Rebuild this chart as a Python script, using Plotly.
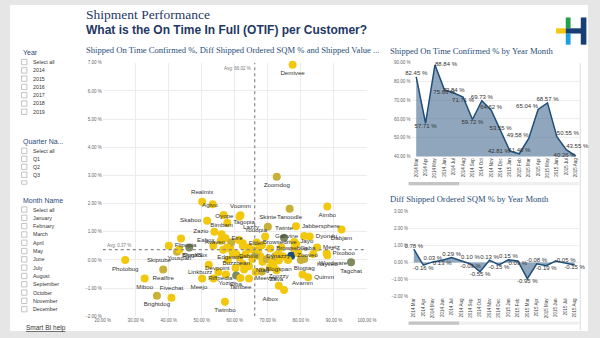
import plotly.graph_objects as go

# ---------------- data ----------------
customers = ["Realmix", "", "Agivu", "Voomm", "Oyope", "Skaboo", "Tagopia", "Zazio", "Bimbam", "Eire",
             "Eabox", "", "Flipopia", "Skiptube", "Youspan", "", "Dynabox", "BlogXS", "Linkbuzz", "Riffpedia",
             "Meejo", "Yozio", "Twimbo", "Devpoint", "Oba", "Tambee", "Meevee", "Buzzbean", "Edgewire", "Avaveo",
             "Youopia", "Eidel", "Browsedrive", "Lazzy", "Skinte", "Twinte", "Tanoodle", "Aimbo", "Jabbersphere", "Gabvine",
             "Dyondu", "Dabjam", "Jayo", "Meetz", "Pixoboo", "Wordware", "Kayveo", "Tagchat", "Blogtag", "Quimm",
             "Avamm", "Zoozzy", "Aibox", "Zava", "Blogspan", "Ntag", "Browsebug", "Geba", "Zooveo", "Dablist",
             "Dynazzy", "Demivee", "Zoomdog", "Photobug", "Realfire", "Miboo", "Brightdog", "Fivechat",
             "", "", "", "", "", "", "", "", "", "", "", "", "", "", "", "", "", "", "", "", "", "", "", "", "", "", "", "", "", ""]
otif_pct = [50.1, 53.3, 56.6, 61.7, 61.4, 51.6, 57.7, 53.8, 56.0, 57.2,
            55.7, 43.7, 40.0, 42.5, 43.2, 46.2, 53.5, 52.1, 55.0, 50.1,
            53.5, 57.3, 57.0, 60.2, 60.4, 61.7, 64.3, 60.4, 58.6, 58.9,
            61.2, 62.4, 66.6, 69.2, 70.0, 74.9, 76.6, 88.0, 78.5, 81.0,
            82.7, 92.3, 78.0, 84.9, 87.8, 83.7, 88.0, 95.2, 81.0, 82.2,
            80.5, 73.3, 74.9, 72.6, 73.3, 68.4, 70.7, 78.0, 77.1, 64.1,
            67.7, 77.5, 72.7, 26.8, 38.3, 32.7, 36.4, 40.8,
            62.4, 63.3, 65.0, 66.3, 67.1, 68.2, 69.7, 71.2, 72.2, 73.6,
            74.6, 76.1, 79.2, 80.0, 71.7, 70.7, 64.3, 62.8, 62.4, 66.3,
            68.2, 74.1, 78.6, 61.4, 59.4, 57.9, 56.5, 57.6, 65.3, 73.1]
diff_sqm_pct = [2.07, 1.98, 1.60, 1.59, 1.53, 1.39, 1.32, 1.00, 0.91, 0.77,
                0.68, 0.76, 0.50, 0.29, 0.36, 0.44, 0.50, -0.17, -0.43, -0.66,
                -0.66, -0.52, -1.48, -0.29, -0.55, -0.64, -0.66, 0.21, 0.41, 0.62,
                0.71, 0.59, 0.62, 0.83, 1.18, 0.79, 1.82, 1.90, 1.20, 0.85,
                0.83, 1.08, 0.64, 0.44, 0.24, 0.21, 0.17, -0.08, 0.03, -0.61,
                -0.52, -0.92, -1.07, -0.37, -0.02, -0.06, 0.41, 0.41, 0.15, 0.44,
                0.13, 6.93, 2.95, 0.00, -0.34, -0.66, -1.27, -1.34,
                0.50, 0.21, 0.38, 0.17, 0.36, 0.52, 0.03, -0.10, 0.13, 0.06,
                0.13, 0.00, 0.24, 0.00, -0.22, -0.26, -0.22, -0.34, -0.14, -0.43,
                -0.41, 0.44, 0.56, 0.09, 0.24, 0.01, 0.36, 0.44, 0.03, 0.21]
value_band = [0, 0, 0, 0, 0, 0, 0, 0, 0, 0,
              0, 0, 0, 1, 0, 2, 0, 0, 0, 0,
              0, 0, 0, 0, 2, 0, 0, 0, 0, 1,
              0, 0, 0, 0, 1, 2, 1, 0, 0, 0,
              0, 0, 0, 0, 0, 0, 0, 2, 1, 0,
              0, 0, 0, 0, 0, 0, 0, 0, 3, 0,
              0, 0, 1, 0, 1, 0, 1, 0,
              0, 0, 0, 1, 0, 0, 1, 0, 1, 0,
              0, 0, 0, 1, 0, 0, 0, 0, 0, 0,
              1, 0, 0, 0, 0, 0, 0, 0, 0, 0]
label_side = ["top center", "top center", "top left", "top center", "middle left", "middle left", "middle right", "middle left", "top center", "middle right",
              "middle left", "top center", "middle right", "bottom left", "bottom center", "top center", "bottom left", "top left", "middle left", "middle right",
              "bottom left", "bottom center", "bottom center", "middle left", "bottom center", "bottom center", "middle right", "bottom center", "bottom center", "middle left",
              "top right", "middle right", "middle right", "top left", "top center", "top center", "bottom center", "bottom center", "middle right", "middle left",
              "middle right", "bottom center", "middle right", "middle right", "middle right", "bottom right", "bottom center", "bottom center", "bottom center", "middle right",
              "bottom center", "top center", "bottom left", "bottom center", "bottom center", "bottom center", "middle right", "middle right", "middle right", "bottom center",
              "middle right", "bottom center", "bottom center", "bottom center", "bottom center", "bottom center", "bottom center", "top center"] + ["top center"] * 32
avg_otif = 66.02
avg_diff = 0.37

year_months = ["2014 Mar", "2014 Apr", "2014 May", "2014 Jun", "2014 Jul", "2014 Aug", "2014 Sep", "2014 Oct",
               "2014 Nov", "2014 Dec", "2015 Jan", "2015 Feb", "2015 Mar", "2015 Apr", "2015 May", "2015 Jun",
               "2015 Jul", "2015 Aug"]
otif_by_month = [82.45, 57.71, 88.84, 75.66, 73.84, 71.71, 59.72, 69.73, 64.62, 53.55,
                 42.81, 41.40, 49.58, 65.04, 68.57, 50.55, 43.55, 40.26]
diff_by_month = [0.78, -0.16, 0.03, 0.13, 0.29, 0.10, -0.09, -0.55, 0.13, -0.15,
                 0.15, 0.09, -0.95, -0.08, -0.19, 0.08, -0.05, -0.15]
otif_label_side = ["top center", "bottom center", "middle right", "bottom center", "top center", "bottom center",
                   "bottom center", "top center", "top center", "top center", "middle left", "top center",
                   "top left", "top left", "top center", "top right", "top right", "middle left"]
diff_label_side = ["top center", "bottom center", "top center", "bottom center", "top center", "top right",
                   "bottom center", "bottom center", "top center", "bottom center", "top center", "bottom center",
                   "bottom center", "top center", "bottom center", "top center", "top center", "bottom center"]
diff_labelled = [1, 1, 1, 1, 1, 1, 1, 1, 1, 1, 1, 1, 1, 1, 1, 0, 1, 1]

years = ["Select all", "2014", "2015", "2016", "2017", "2018", "2019"]
quarters = ["Select all", "Q1", "Q2", "Q3"]
month_names = ["Select all", "January", "February", "March", "April", "May", "June", "July",
               "August", "September", "October", "November", "December"]

# ---------------- styling ----------------
W, H = 600, 338
NAVY = "#1f3864"
LINE = "#1f4e79"
FILL = "rgba(31,78,121,0.5)"
band_colors = {0: "#F2C80F", 1: "#C9B038", 2: "#7E8A60", 3: "#1F4E79"}
SANS = "Liberation Sans, Arial, sans-serif"
SERIF = "Liberation Serif, Times New Roman, serif"


def fx(p):
    return p / W


def fy(p):
    return 1 - p / H


fig = go.Figure()

# scatter
fig.add_trace(go.Scatter(
    x=otif_pct, y=diff_sqm_pct, mode="markers+text", text=customers, textposition=label_side,
    marker=dict(size=8, color=[band_colors[b] for b in value_band], line=dict(width=0)),
    textfont=dict(size=6.2, color="#333333", family=SANS), cliponaxis=False,
    xaxis="x", yaxis="y", hoverinfo="x+y+text"))

# top right area
fig.add_trace(go.Scatter(
    x=year_months, y=otif_by_month, mode="lines+text", fill="tozeroy", fillcolor=FILL,
    line=dict(color=LINE, width=1.5), text=[f"{v:.2f} %" for v in otif_by_month],
    textposition=otif_label_side, textfont=dict(size=6, color="#333333", family=SANS),
    cliponaxis=False, xaxis="x2", yaxis="y2"))

# bottom right area
fig.add_trace(go.Scatter(
    x=year_months, y=diff_by_month, mode="lines+text", fill="tozeroy", fillcolor=FILL,
    line=dict(color=LINE, width=1.5),
    text=[f"{v:.2f} %" if s else "" for v, s in zip(diff_by_month, diff_labelled)],
    textposition=diff_label_side, textfont=dict(size=6, color="#333333", family=SANS),
    cliponaxis=False, xaxis="x3", yaxis="y3"))

tickfont = dict(size=4.5, color="#666666", family=SANS)

fig.update_layout(
    width=W, height=H, margin=dict(l=0, r=0, t=0, b=0),
    paper_bgcolor="#e6e6e6", plot_bgcolor="rgba(0,0,0,0)", showlegend=False,
    xaxis=dict(domain=[fx(97.7), fx(370)], range=[20, 100], dtick=10, tickformat=".2f", ticksuffix=" %",
               showgrid=True, gridcolor="#ececec", zeroline=False, showline=False, tickfont=tickfont,
               anchor="y", ticklen=0),
    yaxis=dict(domain=[fy(319), fy(61.7)], range=[-2, 7], dtick=1, tickformat=".2f", ticksuffix=" %",
               showgrid=True, gridcolor="#ececec", zeroline=False, showline=False, tickfont=tickfont,
               anchor="x", ticklen=0),
    xaxis2=dict(domain=[fx(416), fx(590)], type="category", range=[-0.5, 17.5], tickangle=-90,
                showgrid=False, zeroline=False, showline=False, tickfont=dict(size=4.5, color="#444", family=SANS),
                anchor="y2"),
    yaxis2=dict(domain=[fy(156.7), fy(61.7)], range=[40, 90], dtick=10, tickformat=".2f", ticksuffix=" %",
                showgrid=True, gridcolor="#eeeeee", zeroline=False, tickfont=tickfont, anchor="x2"),
    xaxis3=dict(domain=[fx(413.5), fx(589)], type="category", range=[-0.5, 17.5], tickangle=-90,
                showgrid=False, zeroline=False, showline=False, tickfont=dict(size=4.5, color="#444", family=SANS),
                anchor="y3"),
    yaxis3=dict(domain=[fy(299), fy(212.3)], range=[-2, 3], dtick=1, tickformat=".2f", ticksuffix=" %",
                showgrid=True, gridcolor="#eeeeee", zeroline=False, tickfont=tickfont, anchor="x3"),
)

shapes = []
# white card
shapes.append(dict(type="rect", xref="paper", yref="paper", x0=fx(2), x1=fx(598), y0=fy(334), y1=fy(3),
                   fillcolor="white", line=dict(width=0), layer="below"))
shapes.append(dict(type="line", xref="paper", yref="paper", x0=fx(590), x1=fx(590), y0=fy(333), y1=fy(62),
                   line=dict(color="#dddddd", width=1), layer="below"))
# average lines
shapes.append(dict(type="line", xref="x", yref="y", x0=avg_otif, x1=avg_otif, y0=-2, y1=7,
                   line=dict(color="#888888", width=1.2, dash="dot")))
shapes.append(dict(type="line", xref="x", yref="y", x0=20, x1=100, y0=avg_diff, y1=avg_diff,
                   line=dict(color="#888888", width=1.2, dash="dot")))
# scrollbars
for ytop in (182.7, 324.3):
    shapes.append(dict(type="rect", xref="paper", yref="paper", x0=fx(413), x1=fx(589), y0=fy(ytop + 3.3), y1=fy(ytop),
                       fillcolor="#efefef", line=dict(width=0)))
    shapes.append(dict(type="rect", xref="paper", yref="paper", x0=fx(413), x1=fx(465), y0=fy(ytop + 3.3), y1=fy(ytop),
                       fillcolor="#c4c4c4", line=dict(width=0)))
# logo
logo = [(565, 575, 26.7, 32, "#F2C80F"), (575, 580, 15.7, 26.7, "#1FA24A"), (575, 580, 32, 43.3, "#1BA1E2"),
        (575, 594, 26.7, 32, "#173F73"), (590.5, 596.3, 15.7, 43.3, "#173F73")]
for x0, x1, y0, y1, c in logo:
    shapes.append(dict(type="rect", xref="paper", yref="paper", x0=fx(x0), x1=fx(x1), y0=fy(y1), y1=fy(y0),
                       fillcolor=c, line=dict(width=0)))

annotations = []


def text(x, y, s, size, color="#333333", family=SANS, anchor="left"):
    annotations.append(dict(xref="paper", yref="paper", x=fx(x), y=fy(y), text=s, showarrow=False,
                            xanchor=anchor, yanchor="middle", font=dict(size=size, color=color, family=family)))


# header
text(78, 12.6, "Shipment Performance", 13.5, NAVY, SERIF)
text(78, 28.5, "<b>What is the On Time In Full (OTIF) per Customer?</b>", 12, NAVY, SANS)
# chart titles
text(78, 49, "Shipped On Time Confirmed %, Diff Shipped Ordered SQM % and Shipped Value ...", 8.6, LINE, SERIF)
text(392, 49.5, "Shipped On Time Confirmed % by Year Month", 8.6, LINE, SERIF)
text(392, 200, "Diff Shipped Ordered SQM % by Year Month", 8.6, LINE, SERIF)
# avg labels
annotations.append(dict(xref="x", yref="y", x=avg_otif, y=7, text=f"Avg: {avg_otif:.2f} %", showarrow=False,
                        xanchor="right", yanchor="top", xshift=-2, yshift=-1,
                        font=dict(size=4.5, color="#777777", family=SANS)))
annotations.append(dict(xref="x", yref="y", x=20, y=avg_diff, text=f"Avg: {avg_diff:.2f} %", showarrow=False,
                        xanchor="left", yanchor="bottom", xshift=2,
                        font=dict(size=4.5, color="#777777", family=SANS)))


# slicers
def slicer(title, items, y_title, y_first, step=8.4):
    text(13, y_title, title, 7, "#2c4a7a")
    for i, it in enumerate(items):
        yy = y_first + i * step
        shapes.append(dict(type="rect", xref="paper", yref="paper", x0=fx(14), x1=fx(19.5),
                           y0=fy(yy + 2.75), y1=fy(yy - 2.75), fillcolor="white",
                           line=dict(color="#b5b5b5", width=0.8)))
        text(23.3, yy, it, 5.3, "#333333")


slicer("Year", years, 51.7, 61)
slicer("Quarter Na...", quarters, 141.7, 151, 8.1)
shapes.append(dict(type="rect", xref="paper", yref="paper", x0=fx(14), x1=fx(19.5),
                   y0=fy(185), y1=fy(181.5), fillcolor="white", line=dict(color="#b5b5b5", width=0.8)))
slicer("Month Name", month_names, 201.7, 210.7, 8.42)
text(16.5, 330.5, "<u>Smart BI help</u>", 6.5, "#333333")

fig.update_layout(shapes=shapes, annotations=annotations)
fig.write_html("out.html")
